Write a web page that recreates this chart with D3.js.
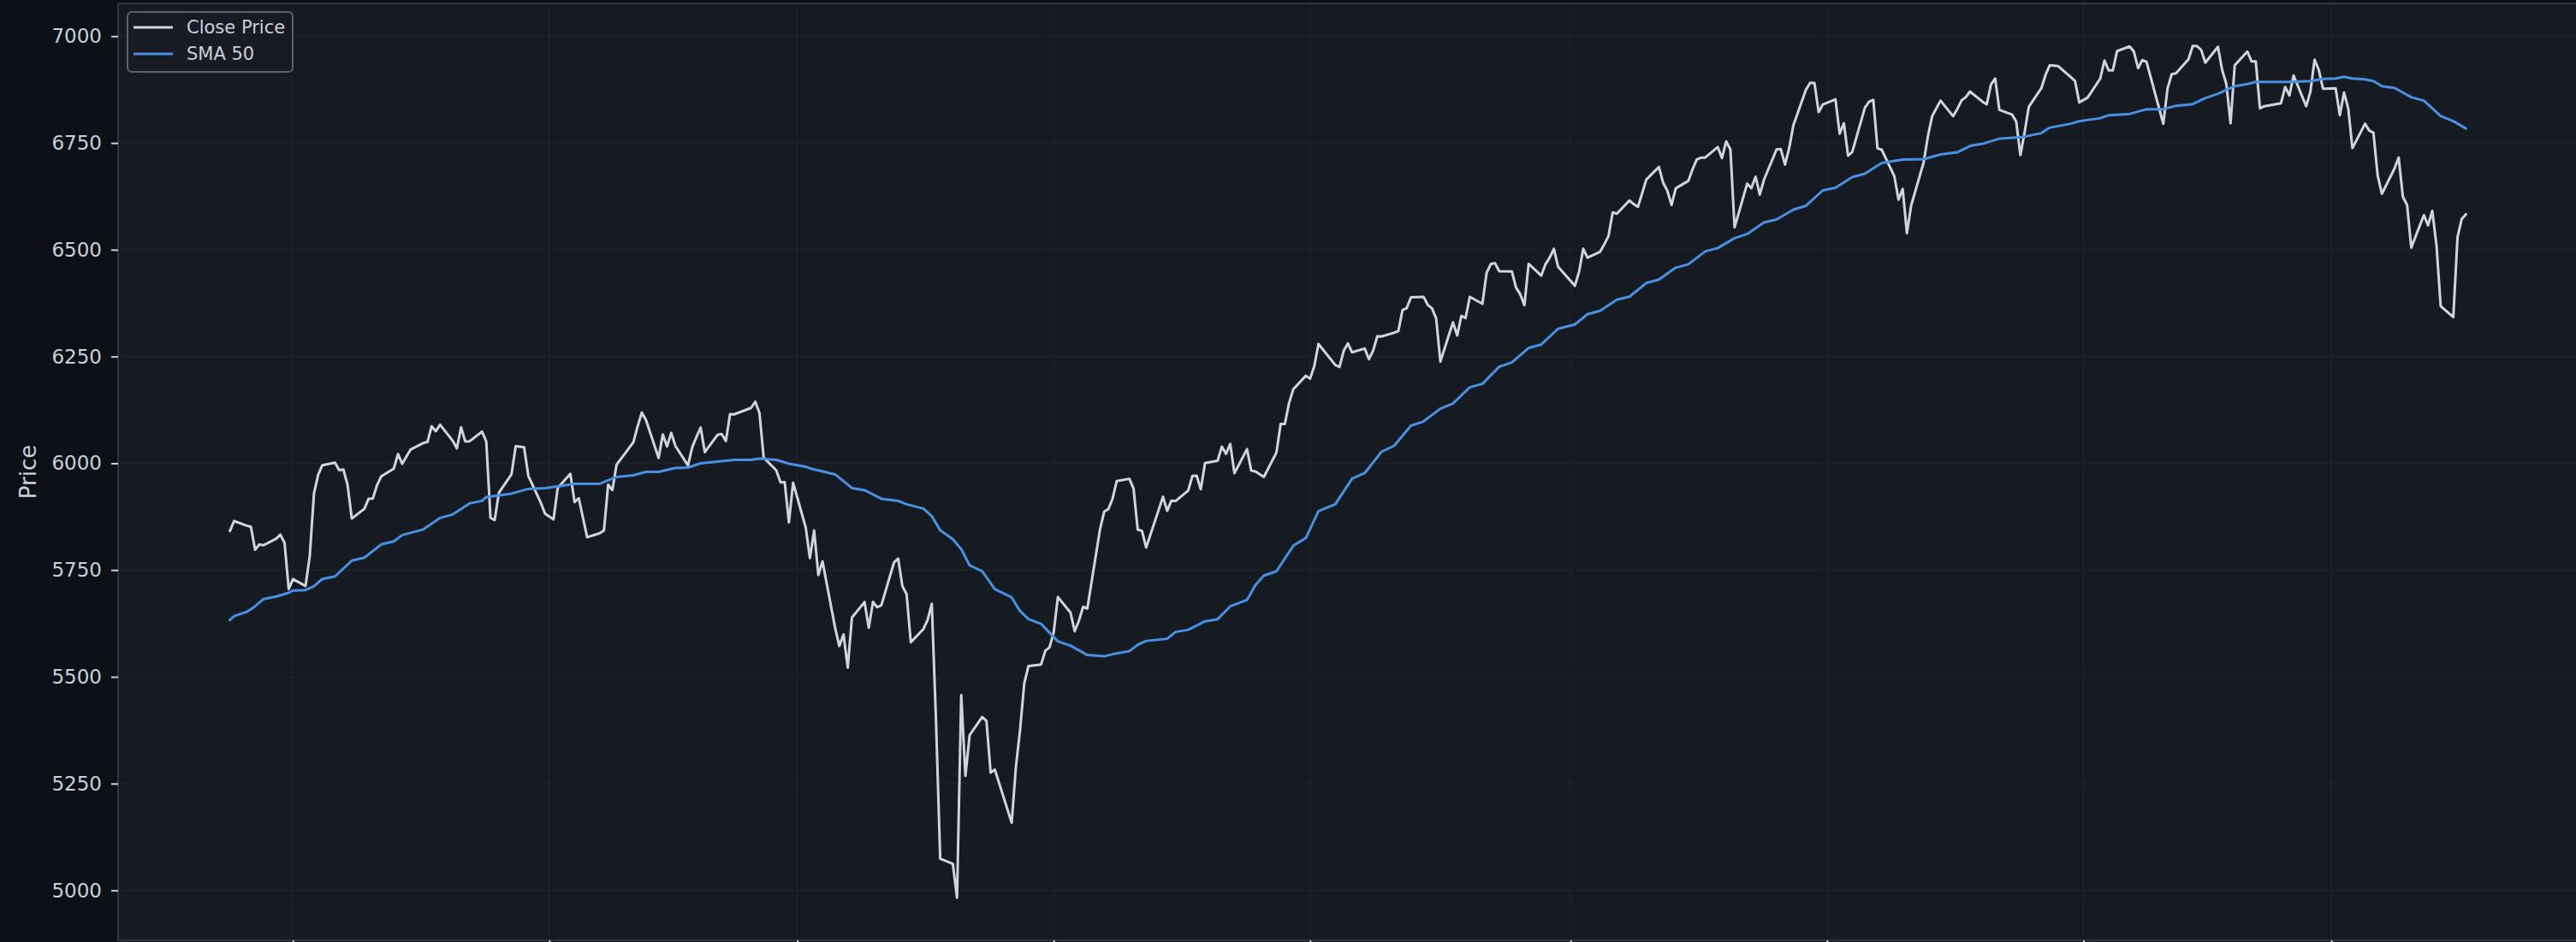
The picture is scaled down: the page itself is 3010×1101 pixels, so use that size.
<!DOCTYPE html>
<html>
<head>
<meta charset="utf-8">
<script src="https://cdn.jsdelivr.net/npm/d3@7"></script>
<style>
  html, body { margin: 0; padding: 0; background: #0d1117; overflow: hidden; }
  svg { display: block; }
</style>
</head>
<body>
<svg id="chart" width="3010" height="1101"></svg>
<script>
// ---------------- DATA ----------------
const firstDay = "2024-10-17";
const lastDay = "2026-04-02";
const marketHolidays = ["2024-11-28","2024-12-25","2025-01-01","2025-01-09","2025-01-20","2025-02-17",
  "2025-04-18","2025-05-26","2025-06-19","2025-07-04","2025-09-01","2025-11-27","2025-12-25",
  "2026-01-01","2026-01-19","2026-02-16"];

// Daily close, one line per month (trading days in order)
const closePrices = [
  5841.5,5864.7,5854.0,5851.2,5797.4,5809.9,5808.1,5823.5,5832.9,5813.7,5705.5,                                   // 2024-10
  5728.8,5712.7,5782.8,5929.0,5973.1,5995.5,6001.4,5984.0,5985.4,5949.2,5870.6,5893.6,5917.0,5917.1,5948.7,5969.3,5987.4,6021.6,5998.7,6032.4, // 2024-11
  6047.2,6049.9,6086.5,6075.1,6090.3,6052.9,6034.9,6084.2,6051.1,6051.3,6074.1,6050.6,5872.2,5867.1,5930.9,5974.1,6040.0,6037.6,5970.8,5906.9,5881.6, // 2024-12
  5868.6,5942.5,5975.4,5909.0,5918.3,5827.0,5836.2,5842.9,5949.9,5937.3,5996.7,6049.2,6086.4,6118.7,6101.2,6012.3,6067.7,6039.3,6071.2,6040.5, // 2025-01
  5994.6,6037.9,6061.5,6083.6,6026.0,6066.4,6068.5,6052.0,6115.1,6114.6,6129.6,6144.2,6117.5,6013.1,5983.3,5955.3,5956.1,5861.6,5954.5, // 2025-02
  5849.7,5778.2,5842.6,5738.5,5770.2,5614.6,5572.1,5599.3,5521.5,5638.9,5675.1,5614.7,5675.3,5662.9,5667.6,5767.6,5776.7,5712.2,5693.3,5580.9,5611.9, // 2025-03
  5633.1,5671.0,5396.5,5074.1,5062.3,4982.8,5456.9,5268.1,5363.4,5406.0,5396.6,5275.7,5282.7,5158.2,5287.8,5375.9,5484.8,5525.2,5528.8,5560.8,5569.1, // 2025-04
  5604.1,5686.7,5650.4,5606.9,5631.3,5663.9,5659.9,5844.2,5886.6,5892.6,5916.9,5958.4,5963.6,5940.5,5844.6,5842.0,5802.8,5921.5,5888.6,5912.2,5911.7, // 2025-05
  5935.9,5970.4,5970.8,5939.3,6000.4,6005.9,6038.8,6022.2,6045.3,5977.0,6033.1,5982.7,5980.9,5967.8,6025.2,6092.2,6092.2,6141.0,6173.1,6205.0, // 2025-06
  6198.0,6227.4,6279.4,6230.0,6225.5,6263.3,6280.5,6259.8,6268.6,6243.8,6263.7,6297.4,6296.8,6305.6,6309.6,6358.9,6363.4,6388.6,6389.8,6370.9,6362.9,6339.4, // 2025-07
  6238.0,6329.9,6299.2,6345.1,6340.0,6389.5,6373.5,6445.8,6466.6,6468.5,6449.8,6449.2,6411.4,6395.8,6370.2,6466.9,6439.3,6465.9,6481.4,6501.9,6460.3, // 2025-08
  6415.5,6448.3,6502.1,6481.5,6495.2,6512.6,6532.0,6587.5,6584.3,6615.3,6606.8,6600.4,6632.0,6664.4,6693.8,6656.9,6638.0,6604.7,6643.7,6661.2,6688.5, // 2025-09
  6711.2,6715.4,6715.8,6740.3,6714.6,6753.7,6735.1,6552.5,6654.7,6644.3,6671.1,6629.1,6664.0,6735.1,6735.4,6699.4,6738.4,6791.7,6875.2,6890.9,6890.6,6822.3,6840.2, // 2025-10
  6852.0,6771.6,6796.3,6720.3,6728.8,6832.4,6846.6,6850.9,6737.5,6734.1,6672.4,6617.3,6642.2,6538.8,6603.0,6705.1,6765.9,6812.6,6849.1, // 2025-11
  6812.6,6829.4,6849.7,6857.1,6870.4,6846.5,6840.5,6886.7,6901.0,6827.4,6816.5,6800.3,6721.4,6774.8,6834.5,6878.5,6909.8,6932.1,6929.9,6904,6895,6845, // 2025-12
  6856,6901,6943,6920,6920,6965,6976,6964,6925,6944,6940,6795,6877,6911,6913,6946,6977,6977,6968,6938, // 2026-01
  6975,6921,6888,6796,6932,6964,6941,6941,6831,6836,6843,6881,6861,6908,6836,6870,6945,6921,6877, // 2026-02
  6878,6815,6868,6831,6738,6795,6779,6774,6674,6631,6690,6716,6624,6605,6505,6581,6557,6591,6510,6368,6342,6529, // 2026-03
  6572,6583 // 2026-04
];

// 50-day simple moving average
const smaDates = ["2024-10-17","2024-10-18","2024-10-21","2024-10-23","2024-10-25","2024-10-28","2024-10-31",
  "2024-11-01","2024-11-04","2024-11-06","2024-11-08","2024-11-11","2024-11-15","2024-11-18","2024-11-22","2024-11-25","2024-11-27",
  "2024-12-02","2024-12-06","2024-12-09","2024-12-13","2024-12-16","2024-12-17","2024-12-23","2024-12-27","2024-12-31",
  "2025-01-03","2025-01-07","2025-01-13","2025-01-17","2025-01-21","2025-01-24","2025-01-27","2025-01-31",
  "2025-02-03","2025-02-06","2025-02-10","2025-02-14","2025-02-18","2025-02-20","2025-02-24","2025-02-27",
  "2025-03-03","2025-03-04","2025-03-10","2025-03-14","2025-03-17","2025-03-21","2025-03-25","2025-03-27","2025-03-31",
  "2025-04-02","2025-04-04","2025-04-07","2025-04-09","2025-04-11","2025-04-14","2025-04-17","2025-04-21","2025-04-23","2025-04-25","2025-04-28",
  "2025-05-02","2025-05-05","2025-05-09","2025-05-13","2025-05-15","2025-05-19","2025-05-21","2025-05-23","2025-05-28","2025-05-30",
  "2025-06-02","2025-06-06","2025-06-09","2025-06-12","2025-06-16","2025-06-18","2025-06-20","2025-06-23","2025-06-27","2025-06-30",
  "2025-07-03","2025-07-07","2025-07-11","2025-07-14","2025-07-18","2025-07-21","2025-07-25","2025-07-28",
  "2025-08-01","2025-08-04","2025-08-08","2025-08-11","2025-08-15","2025-08-18","2025-08-22","2025-08-25","2025-08-29",
  "2025-09-02","2025-09-05","2025-09-08","2025-09-12","2025-09-15","2025-09-19","2025-09-22","2025-09-26","2025-09-29",
  "2025-10-03","2025-10-06","2025-10-10","2025-10-13","2025-10-17","2025-10-20","2025-10-24","2025-10-27","2025-10-31",
  "2025-11-03","2025-11-07","2025-11-10","2025-11-14","2025-11-19","2025-11-24","2025-11-28",
  "2025-12-02","2025-12-05","2025-12-08","2025-12-12","2025-12-17","2025-12-22","2025-12-24","2025-12-29","2025-12-31",
  "2026-01-05","2026-01-07","2026-01-12","2026-01-16","2026-01-20","2026-01-23","2026-01-27","2026-01-30",
  "2026-02-02","2026-02-06","2026-02-09","2026-02-11","2026-02-19","2026-02-24","2026-02-27",
  "2026-03-02","2026-03-04","2026-03-06","2026-03-09","2026-03-11","2026-03-13","2026-03-16","2026-03-20","2026-03-23","2026-03-27","2026-03-30",
  "2026-04-02"];
const smaValues = [5633,5642,5652,5665,5682,5688,5697,
  5702,5703,5712,5729,5735,5772,5779,5810,5817,5832,
  5845,5872,5880,5906,5912,5921,5929,5940,5942,
  5946,5952,5952,5968,5972,5980,5980,5989,
  5990,6000,6004,6008,6008,6011,6008,5999,
  5992,5988,5974,5942,5937,5917,5912,5904,5894,
  5876,5843,5822,5799,5761,5747,5705,5686,5654,5635,5624,
  5583,5573,5551,5548,5553,5560,5575,5584,5589,5605,
  5610,5630,5635,5665,5680,5715,5737,5747,5807,5825,
  5888,5904,5964,5977,6027,6041,6088,6098,
  6128,6140,6178,6186,6226,6236,6270,6278,6315,
  6325,6349,6357,6383,6390,6422,6430,6458,6466,
  6496,6504,6527,6537,6564,6571,6594,6603,6639,
  6645,6670,6678,6703,6711,6712,6723,
  6728,6743,6748,6760,6763,6773,6786,6795,6801,
  6808,6815,6818,6829,6829,6837,6841,6855,
  6865,6883,6888,6893,6893,6895,6900,
  6901,6905,6901,6899,6895,6883,6879,6857,6849,6813,6801,
  6784];

const yTicks = [5000, 5250, 5500, 5750, 6000, 6250, 6500, 6750, 7000];
const seriesNames = ["Close Price", "SMA 50"];
const yAxisTitle = "Price";

// ---------------- BUILD ----------------
const parse = d3.timeParse("%Y-%m-%d");
const fmt = d3.timeFormat("%Y-%m-%d");
const hol = new Set(marketHolidays);
const tradingDays = d3.timeDay.range(parse(firstDay), d3.timeDay.offset(parse(lastDay), 1))
  .filter(d => d.getDay() !== 0 && d.getDay() !== 6 && !hol.has(fmt(d)));
if (tradingDays.length !== closePrices.length) console.error("length mismatch", tradingDays.length, closePrices.length);
const closeData = closePrices.map((v, i) => ({ date: tradingDays[i], value: v })).filter(d => d.date);
const smaData = smaDates.map((s, i) => ({ date: parse(s), value: smaValues[i] }));

const W = 3010, H = 1101;
const plot = { left: 138, right: 3012, top: 4, bottom: 1099 };
const COLORS = { fig: "#0d1117", axes: "#161b22", grid: "#1e232b", spine: "#30363d",
  text: "#c9d1d9", close: "#d0d5db", sma: "#4a90e2", legendEdge: "#5b6169" };
const FONT = "'DejaVu Sans', sans-serif";

const t0 = d3.min(closeData, d => d.date), t1 = d3.max(closeData, d => d.date);
const tPad = (t1 - t0) * 0.05;
const x = d3.scaleTime().domain([new Date(+t0 - tPad), new Date(+t1 + tPad)]).range([plot.left, plot.right]);
const allVals = closePrices.concat(smaValues);
const vMin = d3.min(allVals), vMax = d3.max(allVals), vPad = (vMax - vMin) * 0.05;
const y = d3.scaleLinear().domain([vMin - vPad, vMax + vPad]).range([plot.bottom, plot.top]);

const svg = d3.select("#chart");
svg.append("rect").attr("width", W).attr("height", H).attr("fill", COLORS.fig);
svg.append("rect").attr("x", plot.left).attr("y", plot.top)
  .attr("width", plot.right - plot.left).attr("height", plot.bottom - plot.top).attr("fill", COLORS.axes);

const xTicks = x.ticks(d3.timeMonth.every(2));

// grid
const grid = svg.append("g");
grid.selectAll("line.h").data(yTicks).join("line").attr("class", "h")
  .attr("x1", plot.left).attr("x2", plot.right).attr("y1", d => y(d)).attr("y2", d => y(d))
  .attr("stroke", COLORS.grid).attr("stroke-width", 1.5);
grid.selectAll("line.v").data(xTicks).join("line").attr("class", "v")
  .attr("x1", d => x(d)).attr("x2", d => x(d)).attr("y1", plot.top).attr("y2", plot.bottom)
  .attr("stroke", COLORS.grid).attr("stroke-width", 1.5);

// lines
const lineGen = d3.line().x(d => x(d.date)).y(d => y(d.value));
const clipId = "plotclip";
svg.append("clipPath").attr("id", clipId).append("rect")
  .attr("x", plot.left).attr("y", plot.top).attr("width", plot.right - plot.left).attr("height", plot.bottom - plot.top);
const lines = svg.append("g").attr("clip-path", `url(#${clipId})`);
lines.append("path").datum(closeData).attr("d", lineGen)
  .attr("fill", "none").attr("stroke", COLORS.close).attr("stroke-width", 3)
  .attr("stroke-linejoin", "round").attr("stroke-linecap", "round");
lines.append("path").datum(smaData).attr("d", lineGen)
  .attr("fill", "none").attr("stroke", COLORS.sma).attr("stroke-width", 3)
  .attr("stroke-linejoin", "round").attr("stroke-linecap", "round");

// spines
svg.append("rect").attr("x", plot.left).attr("y", plot.top)
  .attr("width", plot.right - plot.left).attr("height", plot.bottom - plot.top)
  .attr("fill", "none").attr("stroke", COLORS.spine).attr("stroke-width", 2);

// y axis
const yAxis = svg.append("g").attr("transform", `translate(${plot.left},0)`)
  .call(d3.axisLeft(y).tickValues(yTicks).tickSize(8).tickPadding(11).tickFormat(d3.format("d")));
yAxis.select(".domain").remove();
yAxis.selectAll(".tick line").attr("stroke", COLORS.text).attr("stroke-width", 2);
yAxis.selectAll(".tick text").attr("fill", COLORS.text).style("font-family", FONT).style("font-size", "23px");

// x axis (labels fall below the visible window)
const xAxis = svg.append("g").attr("transform", `translate(0,${plot.bottom})`)
  .call(d3.axisBottom(x).tickValues(xTicks).tickSize(8).tickFormat(""));
xAxis.select(".domain").remove();
xAxis.selectAll(".tick line").attr("stroke", COLORS.text).attr("stroke-width", 2);

// y axis title
svg.append("text").attr("transform", `translate(33,${(plot.top + plot.bottom) / 2}) rotate(-90)`)
  .attr("text-anchor", "middle").attr("dominant-baseline", "central")
  .attr("fill", COLORS.text).style("font-family", FONT).style("font-size", "26px").text(yAxisTitle);

// legend
const lg = svg.append("g").attr("transform", "translate(149,14)");
lg.append("rect").attr("width", 193).attr("height", 70).attr("rx", 5)
  .attr("fill", "#181c23").attr("fill-opacity", 0.9).attr("stroke", COLORS.legendEdge).attr("stroke-width", 2);
const legColors = [COLORS.close, COLORS.sma];
seriesNames.forEach((name, i) => {
  const ly = 18 + i * 31;
  lg.append("line").attr("x1", 7).attr("x2", 53).attr("y1", ly).attr("y2", ly)
    .attr("stroke", legColors[i]).attr("stroke-width", 3);
  lg.append("text").attr("x", 69).attr("y", ly).attr("dominant-baseline", "central")
    .attr("fill", COLORS.text).style("font-family", FONT).style("font-size", "21px").text(name);
});
</script>
</body>
</html>
